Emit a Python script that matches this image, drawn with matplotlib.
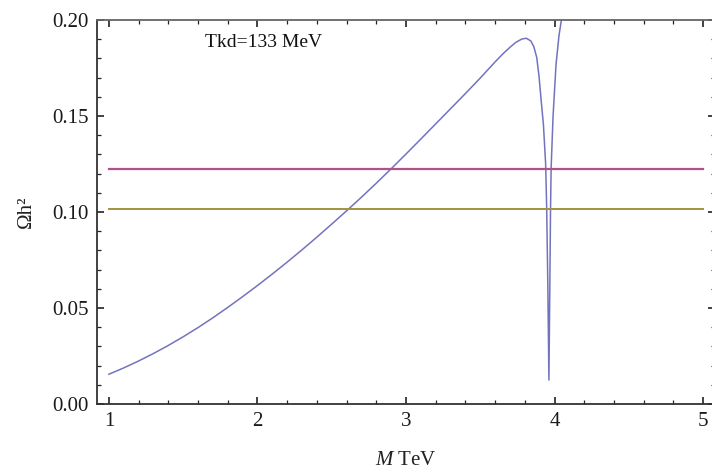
import matplotlib
matplotlib.use("Agg")
import matplotlib.pyplot as plt
from matplotlib.ticker import MultipleLocator

plt.rcParams['font.family'] = ['Liberation Serif', 'DejaVu Serif']
plt.rcParams['mathtext.fontset'] = 'custom'
plt.rcParams['mathtext.rm'] = 'Liberation Serif'
plt.rcParams['mathtext.it'] = 'Liberation Serif:italic'

# Relic density curve Omega h^2 vs M (TeV)
mass = [1.00, 1.10, 1.20, 1.30, 1.40, 1.50, 1.60, 1.70, 1.80, 1.90,
        2.00, 2.10, 2.20, 2.30, 2.40, 2.50, 2.60, 2.70, 2.80, 2.90,
        3.00, 3.10, 3.20, 3.30, 3.40, 3.50, 3.55, 3.60, 3.65, 3.70,
        3.74, 3.78, 3.81, 3.84, 3.86, 3.88, 3.895, 3.91, 3.925, 3.94,
        3.947, 3.955, 3.962, 3.968, 3.973, 3.977, 3.99, 4.01, 4.03, 4.05, 4.07]
omega = [0.0155, 0.0188, 0.0224, 0.0263, 0.0305, 0.0350, 0.0398, 0.0449, 0.0503, 0.0559,
         0.0617, 0.0677, 0.0739, 0.0803, 0.0869, 0.0937, 0.1006, 0.1077, 0.1150, 0.1225,
         0.1302, 0.1380, 0.1459, 0.1538, 0.1617, 0.1698, 0.1740, 0.1782, 0.1822, 0.1858,
         0.1884, 0.1901, 0.1905, 0.1891, 0.1862, 0.1805, 0.1710, 0.1580, 0.1455, 0.1250,
         0.1020, 0.0600, 0.0125, 0.0600, 0.1020, 0.1230, 0.1500, 0.1770, 0.1920, 0.2020, 0.2150]

# Observational bands (horizontal lines)
line_x = [1.0, 5.0]
upper_bound = 0.1225
lower_bound = 0.1015

annotation = "Tkd=133 MeV"
xticks = [1, 2, 3, 4, 5]
yticks = [0.00, 0.05, 0.10, 0.15, 0.20]

fig = plt.figure(figsize=(7.12, 4.74), dpi=100)
ax = fig.add_axes([97/712, 1-404/474, 618/712, 384/474])

ax.plot(mass, omega, color='#7373bd', lw=1.1, clip_on=True)
ax.plot(line_x, [upper_bound, upper_bound], color='#b2508a', lw=1.6)
ax.plot(line_x, [lower_bound, lower_bound], color='#a3923e', lw=1.4)

ax.set_xlim(0.92, 5.08)
ax.set_ylim(0.0, 0.2)
ax.set_xticks(xticks)
ax.set_xticklabels([str(t) for t in xticks])
ax.set_yticks(yticks)
ax.set_yticklabels([f"{t:.2f}" for t in yticks])
ax.xaxis.set_minor_locator(MultipleLocator(0.2))
ax.yaxis.set_minor_locator(MultipleLocator(0.01))
ax.tick_params(which='both', direction='in', top=True, right=True, labelsize=15,
               colors='#222222', labelcolor='#1a1a1a')
ax.tick_params(which='major', length=5, width=1.2, pad=6)
ax.tick_params(which='minor', length=3, width=0.9)
for s in ax.spines.values():
    s.set_color('#333333')
    s.set_linewidth(1.3)
ax.spines['top'].set_color('#666666')
ax.spines['right'].set_color('#666666')

ax.text(1.646, 0.1885, annotation, fontsize=14, va='center', ha='left', color='#111111')

ax.set_xlabel(r'$\mathit{M}$ TeV', fontsize=15, labelpad=14, color='#222222')
ax.set_ylabel('Ωh²', fontsize=15, labelpad=12, color='#222222')

fig.savefig('out.png', dpi=100)
